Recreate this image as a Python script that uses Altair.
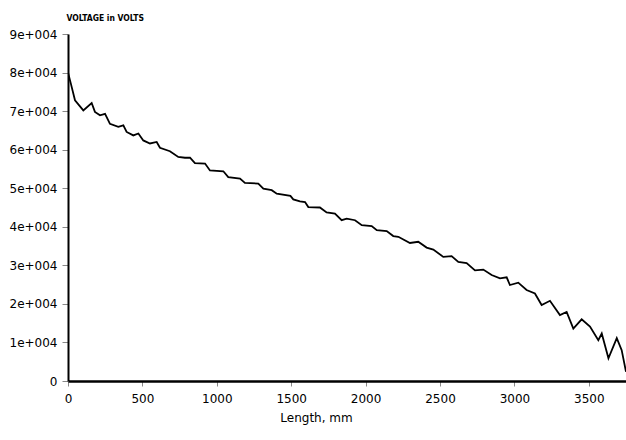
import altair as alt
import pandas as pd

length_mm = [0, 20, 47, 103, 159, 181, 215, 249, 282, 338, 372, 394, 439, 473, 506, 551, 596, 618,
             685, 741, 786, 820, 853, 921, 954, 1044, 1077, 1156, 1189, 1279, 1313, 1369, 1403,
             1495, 1514, 1559, 1593, 1615, 1693, 1738, 1794, 1839, 1873, 1929, 1974, 2041, 2075,
             2142, 2186, 2220, 2254, 2298, 2354, 2410, 2455, 2522, 2578, 2623, 2679, 2735, 2791,
             2847, 2903, 2948, 2970, 3026, 3082, 3138, 3183, 3239, 3306, 3351, 3396, 3452, 3508,
             3564, 3587, 3632, 3688, 3721, 3750]
voltage = [80000, 77000, 72800, 70200, 72100, 69800, 68900, 69300, 66700, 65900, 66300, 64600,
           63700, 64200, 62400, 61600, 62000, 60500, 59600, 58100, 57900, 57900, 56500, 56400,
           54600, 54400, 52900, 52500, 51400, 51200, 49900, 49500, 48600, 48000, 47100, 46600,
           46400, 45100, 45000, 43700, 43400, 41700, 42100, 41700, 40400, 40200, 39100, 38900,
           37600, 37400, 36700, 35800, 36100, 34600, 34100, 32200, 32400, 30900, 30600, 28700,
           28900, 27500, 26600, 26900, 24900, 25500, 23600, 22700, 19700, 20800, 17100, 17900,
           13600, 16000, 14100, 10600, 12300, 5900, 11100, 8000, 2400]

x_ticks = [0, 500, 1000, 1500, 2000, 2500, 3000, 3500]
y_ticks = [0, 10000, 20000, 30000, 40000, 50000, 60000, 70000, 80000, 90000]

df = pd.DataFrame({"length": length_mm, "voltage": voltage})

font = "DejaVu Sans"

chart = alt.Chart(df).mark_line(color="black", strokeWidth=1.8, clip=True).encode(
    x=alt.X("length:Q",
            scale=alt.Scale(domain=[0, 3750], nice=False, zero=False),
            axis=alt.Axis(values=x_ticks, format="d", title="Length, mm", grid=False,
                          domainColor="black", domainWidth=2.5,
                          tickColor="#888888", tickSize=5, tickWidth=1,
                          labelFont=font, labelFontSize=12, labelColor="black",
                          labelPadding=7, labelFlush=False,
                          titleFont=font, titleFontSize=12, titleFontWeight="normal",
                          titleColor="black", titleX=248, titleY=31, titleAnchor="middle")),
    y=alt.Y("voltage:Q",
            scale=alt.Scale(domain=[0, 90000], nice=False),
            axis=alt.Axis(values=y_ticks, title="VOLTAGE in VOLTS", grid=False,
                          labelExpr="datum.value == 0 ? '0' : (datum.value / 10000) + 'e+004'",
                          domainColor="black", domainWidth=2,
                          tickColor="#888888", tickSize=6, tickWidth=1,
                          labelFont=font, labelFontSize=12, labelColor="black",
                          labelPadding=5,
                          titleFont="DejaVu Sans Condensed", titleFontSize=8.5,
                          titleFontWeight="bold", titleColor="black",
                          titleAngle=0, titleAlign="left", titleBaseline="middle",
                          titleX=-2, titleY=-17)),
).properties(
    width=558,
    height=347,
    autosize=alt.AutoSizeParams(type="none"),
    padding={"left": 68, "top": 34, "right": 0, "bottom": 59},
).configure(background="white").configure_view(stroke=None, strokeWidth=0)

chart.save("out.html", embed_options={"renderer": "svg", "actions": False})
